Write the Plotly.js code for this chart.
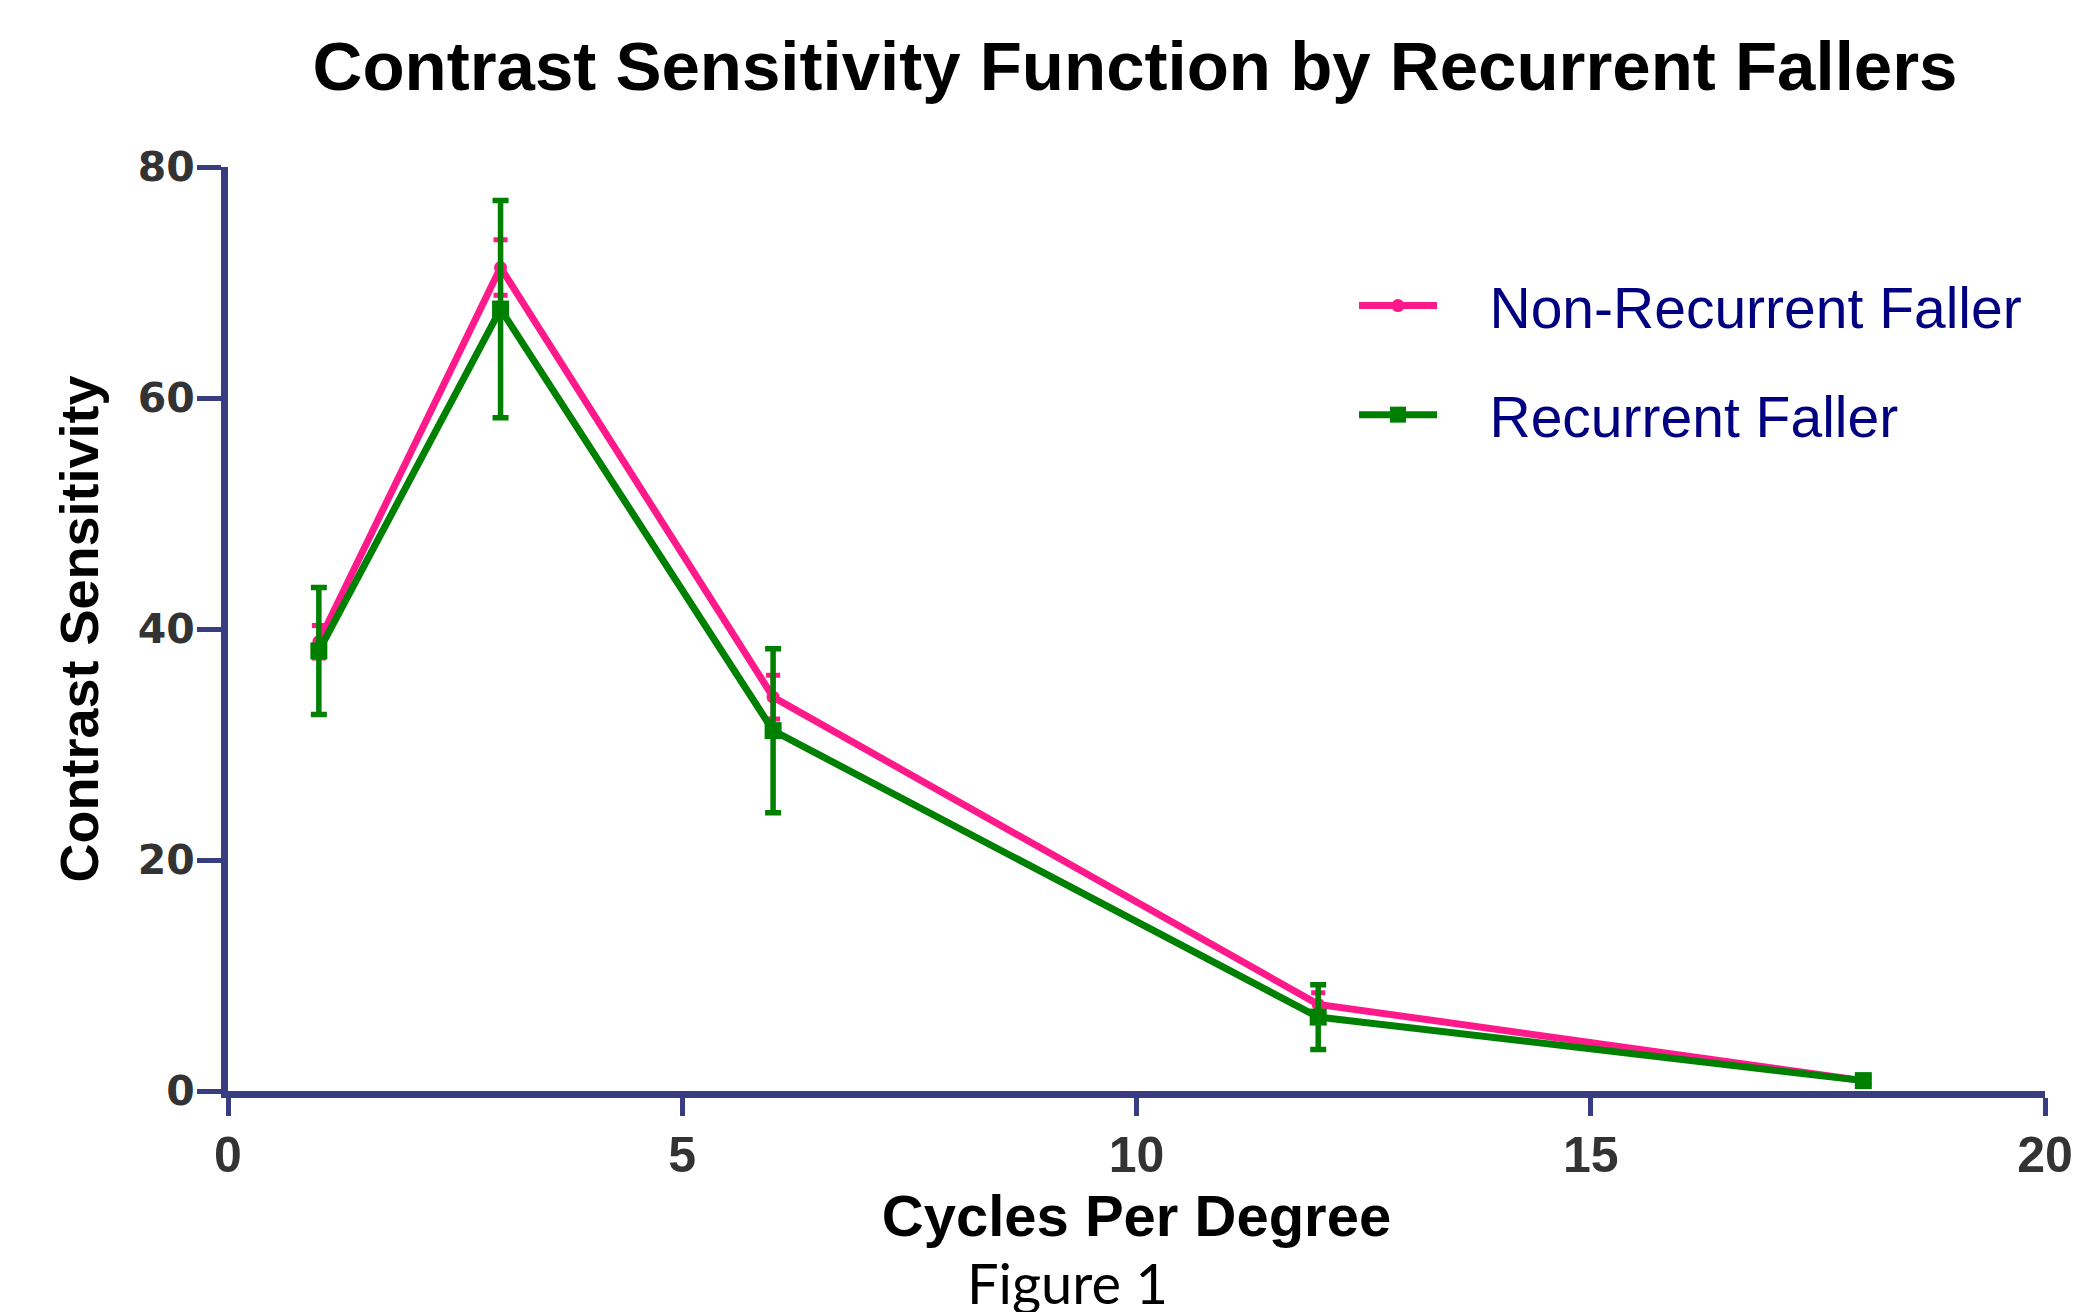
<!DOCTYPE html>
<html>
<head>
<meta charset="utf-8">
<script src="https://cdn.plot.ly/plotly-3.0.1.min.js"></script>
<style>
  html, body { margin: 0; padding: 0; background: #ffffff; }
  #chart { width: 2100px; height: 1312px; }
</style>
</head>
<body>
<div id="chart"></div>
<script>
// ---- Data ----
const cyclesPerDegree = [1, 3, 6, 12, 18];

const nonRecurrentName = "Non-Recurrent Faller";
const nonRecurrentMean = [38.9, 71.3, 34.1, 7.5, 0.9];
const nonRecurrentErr  = [1.4, 2.4, 1.9, 1.0, 0.3];

const recurrentName = "Recurrent Faller";
const recurrentMean = [38.1, 67.7, 31.2, 6.4, 0.9];
const recurrentErr  = [5.5, 9.4, 7.1, 2.8, 0.3];

const xTicks = [0, 5, 10, 15, 20];
const yTicks = [0, 20, 40, 60, 80];

const chartTitle = "Contrast Sensitivity Function by Recurrent Fallers";
const xTitle = "Cycles Per Degree";
const yTitle = "Contrast Sensitivity";
const figureCaption = "Figure 1";

// ---- Styles ----
const pink = "#ff1a8c";
const green = "#008000";
const axisColor = "#383c80";
const legendPad = "\u00a0\u00a0\u00a0"; // visual gap between legend symbol and label

const traces = [
  {
    x: cyclesPerDegree, y: nonRecurrentMean, name: legendPad + nonRecurrentName,
    type: "scatter", mode: "lines+markers", legendgroup: "a",
    line: { color: pink, width: 7 },
    marker: { color: pink, size: 13, symbol: "circle" },
    error_y: { type: "data", array: nonRecurrentErr, visible: true, color: pink, thickness: 5, width: 7 }
  },
  {
    x: cyclesPerDegree, y: recurrentMean, name: legendPad + recurrentName,
    type: "scatter", mode: "lines+markers", legendgroup: "b",
    line: { color: green, width: 7 },
    marker: { color: green, size: 17, symbol: "square" },
    error_y: { type: "data", array: recurrentErr, visible: true, color: green, thickness: 5.5, width: 8 }
  }
];

const layout = {
  width: 2100, height: 1312,
  paper_bgcolor: "#ffffff", plot_bgcolor: "#ffffff",
  margin: { l: 228, r: 55, t: 167, b: 221, autoexpand: false },
  showlegend: true,
  title: {
    text: "<b>" + chartTitle + "</b>",
    font: { family: "Liberation Sans, Arial, sans-serif", size: 69, color: "#000000" },
    x: 1135 / 2100, xanchor: "center", xref: "container",
    y: 1 - 66 / 1312, yanchor: "middle", yref: "container"
  },
  xaxis: {
    range: [0, 20], tickvals: xTicks, ticktext: xTicks.map(String),
    showgrid: false, zeroline: false,
    showline: true, linecolor: axisColor, linewidth: 7,
    ticks: "outside", ticklen: 18, tickwidth: 5, tickcolor: axisColor,
    ticklabelstandoff: -4,
    tickfont: { family: "Liberation Sans, Arial, sans-serif", size: 50, color: "#333333", weight: "bold" },
    automargin: false,
    title: {
      text: "<b>" + xTitle + "</b>", standoff: 4,
      font: { family: "Liberation Sans, Arial, sans-serif", size: 58, color: "#000000" }
    }
  },
  yaxis: {
    range: [0, 80], tickvals: yTicks, ticktext: yTicks.map(String),
    showgrid: false, zeroline: false,
    showline: true, linecolor: axisColor, linewidth: 7,
    ticks: "outside", ticklen: 24, tickwidth: 5, tickcolor: axisColor,
    ticklabelstandoff: -6,
    tickfont: { family: "DejaVu Sans, sans-serif", size: 41, color: "#333333", weight: "bold" },
    automargin: false,
    title: {
      text: "<b>" + yTitle + "</b>", standoff: 24,
      font: { family: "Liberation Sans, Arial, sans-serif", size: 54, color: "#000000" }
    }
  },
  legend: {
    x: (1354 - 228) / 1817, xanchor: "left",
    y: (1091 - 262) / 924, yanchor: "top",
    bgcolor: "rgba(0,0,0,0)", borderwidth: 0,
    itemwidth: 78,
    font: { family: "Liberation Sans, Arial, sans-serif", size: 57, color: "#000080" },
    tracegroupgap: 32, traceorder: "grouped"
  },
  annotations: [
    {
      text: figureCaption, showarrow: false,
      xref: "paper", yref: "paper",
      x: (1067 - 228) / 1817, xanchor: "center",
      y: (1091 - 1282) / 924, yanchor: "middle",
      font: { family: "Lato, Open Sans, sans-serif", size: 56, color: "#000000" }
    }
  ]
};

Plotly.newPlot("chart", traces, layout, { displayModeBar: false, staticPlot: true });
</script>
</body>
</html>
